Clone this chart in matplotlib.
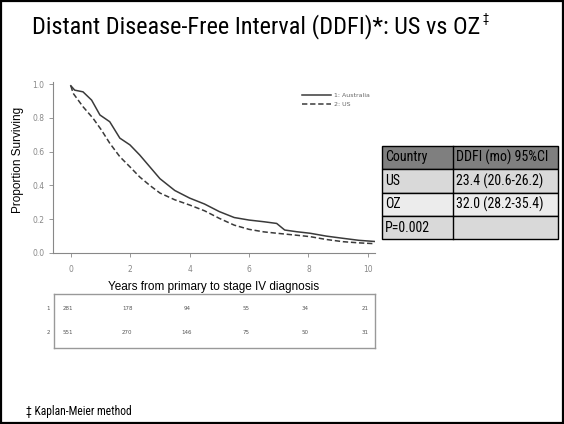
import matplotlib
matplotlib.use("Agg")
import matplotlib.pyplot as plt
from matplotlib import font_manager
from matplotlib.patches import Rectangle

# find a narrow sans for the slide text (Arial Narrow look), else plain Liberation Sans
narrow_path = None
for want in ["Liberation Sans Narrow", "Roboto Condensed", "Open Sans Condensed",
             "Noto Sans Condensed", "DejaVu Sans Condensed"]:
    for f in font_manager.fontManager.ttflist:
        if (f.name == want or want.replace(" ", "") in f.fname.replace(" ", "")) \
                and f.style == "normal" and f.weight in (400, "normal", "regular") \
                and "Bold" not in f.fname and "Italic" not in f.fname:
            narrow_path = f.fname
            break
    if narrow_path:
        break
if narrow_path:
    narrow = font_manager.FontProperties(fname=narrow_path)
else:
    narrow = font_manager.FontProperties(family="Liberation Sans")
plain = "Liberation Sans"

# Kaplan-Meier curves
aus_years = [0, 0.13, 0.41, 0.7, 0.98, 1.31, 1.65, 1.99, 2.32, 2.66, 3.0, 3.5, 4.0, 4.5,
             5.0, 5.5, 6.0, 6.5, 6.93, 7.2, 7.6, 8.05, 8.6, 9.16, 9.7, 10.25]
aus_surv = [0.99, 0.964, 0.954, 0.905, 0.817, 0.777, 0.68, 0.64, 0.58, 0.51, 0.44, 0.37,
            0.325, 0.29, 0.245, 0.21, 0.195, 0.185, 0.175, 0.136, 0.126, 0.117, 0.1,
            0.087, 0.075, 0.068]
us_years = [0, 0.08, 0.41, 0.75, 1.03, 1.31, 1.65, 1.99, 2.32, 2.66, 3.0, 3.5, 4.0, 4.5,
            5.0, 5.5, 6.0, 6.5, 6.93, 7.5, 8.05, 8.6, 9.16, 9.7, 10.25]
us_surv = [0.99, 0.945, 0.866, 0.797, 0.728, 0.65, 0.57, 0.51, 0.45, 0.40, 0.355, 0.315,
           0.284, 0.25, 0.205, 0.165, 0.14, 0.125, 0.117, 0.107, 0.097, 0.08, 0.067,
           0.06, 0.055]

risk_times = [0, 2, 4, 6, 8, 10]
risk_aus = [281, 178, 94, 55, 34, 21]
risk_us = [551, 270, 146, 75, 50, 31]

table_rows = [["Country", "DDFI (mo) 95%CI"],
              ["US", "23.4 (20.6-26.2)"],
              ["OZ", "32.0 (28.2-35.4)"],
              ["P=0.002", ""]]
table_colors = ["#7f7f7f", "#d9d9d9", "#ececec", "#d9d9d9"]

W, H = 564, 424
fig = plt.figure(figsize=(W / 100, H / 100), dpi=100)
renderer = fig.canvas.get_renderer()


def fx(px):
    return px / W


def fy(py):
    return 1 - py / H


def fit_width(t, width_px):
    # shrink/grow a text so it spans width_px, like the narrow font on the slide
    w = t.get_window_extent(renderer).width
    t.set_fontsize(t.get_fontsize() * width_px / w)


# slide border
fig.patches.append(Rectangle((0.002, 0.003), 0.996, 0.994, transform=fig.transFigure,
                             fill=False, edgecolor="black", linewidth=1.6))

title = fig.text(fx(32), fy(27), "Distant Disease-Free Interval (DDFI)*: US vs OZ",
                 ha="left", va="center", fontproperties=narrow, fontsize=20)
fit_width(title, 449)
fig.text(fx(482), fy(12), "\u2021", ha="left", va="top", fontproperties=narrow, fontsize=9)

# main KM plot
ax = fig.add_axes([fx(53), fy(253), fx(375) - fx(53), fy(81.7) - fy(253)])
ax.plot(aus_years, aus_surv, color="#3a3a3a", lw=1.1, label="1: Australia")
ax.plot(us_years, us_surv, color="#3a3a3a", lw=1.1, ls=(0, (3.5, 1.8)), label="2: US")
ax.set_xlim(-0.6, 10.24)
ax.set_ylim(0, 1.014)
ax.set_xticks(risk_times)
ax.set_yticks([0, 0.2, 0.4, 0.6, 0.8, 1.0])
ax.set_yticklabels(["0.0", "0.2", "0.4", "0.6", "0.8", "1.0"])
ax.tick_params(labelsize=5.5, colors="#888888", length=3, width=0.6)
ax.tick_params(axis="x", pad=6)
ax.tick_params(axis="y", pad=3)
for s in ["top", "right"]:
    ax.spines[s].set_visible(False)
for s in ["left", "bottom"]:
    ax.spines[s].set_color("#888888")
    ax.spines[s].set_linewidth(0.8)
ax.set_ylabel("Proportion Surviving", fontsize=8.5, family=plain)
ax.yaxis.set_label_coords((fx(18) - fx(53)) / (fx(375) - fx(53)),
                          (fy(160) - fy(253)) / (fy(81.7) - fy(253)))
ax.set_xlabel("Years from primary to stage IV diagnosis", fontsize=8.5, family=plain)
ax.xaxis.set_label_coords(0.5, (fy(287) - fy(253)) / (fy(81.7) - fy(253)))
ax.xaxis.label.set_va("center")
ax.yaxis.label.set_va("center")
leg = ax.legend(loc="upper right", bbox_to_anchor=(1.0, 0.97), frameon=False,
                fontsize=4.5, handlelength=4.6, labelspacing=0.6, handletextpad=0.4)
for t in leg.get_texts():
    t.set_color("#666666")

# number at risk box
rax = fig.add_axes([fx(54), fy(348), fx(375) - fx(54), fy(294) - fy(348)])
rax.set_xlim(-0.6 + 1 / 29.7, 10.24)
rax.set_ylim(0, 1)
rax.set_xticks([])
rax.set_yticks([])
for s in rax.spines.values():
    s.set_color("#999999")
    s.set_linewidth(1.0)
for t, a, u in zip(risk_times, risk_aus, risk_us):
    rax.text(t - 0.1, 0.74, str(a), ha="center", va="center", fontsize=4, color="#555555")
    rax.text(t - 0.1, 0.28, str(u), ha="center", va="center", fontsize=4, color="#555555")
fig.text(fx(50), fy(308), "1", ha="right", va="center", fontsize=4, color="#555555")
fig.text(fx(50), fy(333), "2", ha="right", va="center", fontsize=4, color="#555555")

# results table
tx0, tx1, tx2 = 382, 453, 558
row_edges = [146, 169, 193, 216, 239]
for i, row in enumerate(table_rows):
    top, bot = row_edges[i], row_edges[i + 1]
    fig.patches.append(Rectangle((fx(tx0), fy(bot)), fx(tx2) - fx(tx0), fy(top) - fy(bot),
                                 transform=fig.transFigure, facecolor=table_colors[i],
                                 edgecolor="black", linewidth=1.0))
    fig.lines.append(plt.Line2D([fx(tx1), fx(tx1)], [fy(bot), fy(top)],
                                transform=fig.transFigure, color="black", lw=1.0))
    ymid = fy((top + bot) / 2)
    fig.text(fx(tx0 + 3), ymid, row[0], ha="left", va="center",
             fontproperties=narrow, fontsize=10)
    fig.text(fx(tx1 + 3), ymid, row[1], ha="left", va="center",
             fontproperties=narrow, fontsize=10)

foot = fig.text(fx(26), fy(412), "\u2021 Kaplan-Meier method", ha="left", va="center",
                fontproperties=narrow, fontsize=7)
fit_width(foot, 107)

fig.savefig("out.png", dpi=100)
